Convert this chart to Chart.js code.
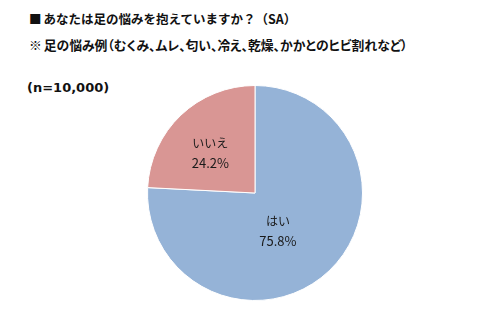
<!DOCTYPE html>
<html lang="ja">
<head>
<meta charset="utf-8">
<script src="https://cdn.jsdelivr.net/npm/chart.js@4"></script>
<style>
  html, body { margin: 0; padding: 0; background: #fff; }
  body { width: 500px; height: 316px; position: relative; overflow: hidden; font-family: "Noto Sans CJK JP", sans-serif; }
  .ttl { position: absolute; left: 29px; font-weight: bold; font-size: 12.5px; color: #111; white-space: nowrap; line-height: 16px; }
  .ttl span { margin-right: 2px; }
  #t1 { top: 11px; }
  #t2 { top: 37px; font-size: 12.8px; font-feature-settings: "palt"; }
  #n { position: absolute; left: 27px; top: 80px; font-family: "DejaVu Sans", sans-serif; font-weight: bold; font-size: 13px; color: #111; }
  #wrap { position: absolute; left: 147px; top: 85px; width: 216px; height: 216px; }
</style>
</head>
<body>
<div class="ttl" id="t1"><span>■</span>あなたは足の悩みを抱えていますか？（SA）</div>
<div class="ttl" id="t2"><span>※</span>足の悩み例（むくみ、ムレ、匂い、冷え、乾燥、かかとのヒビ割れなど）</div>
<div id="n">(n=10,000)</div>
<div id="wrap"><canvas id="chart-pie"></canvas></div>
<script>
// data
const labels = ['はい', 'いいえ'];
const values = [75.8, 24.2];
const colors = ['#95b3d7', '#d99694'];

// label spot inside each slice: [share of slice angle, share of radius]
const labelSpot = [[0.545, 0.41], [0.45, 0.56]];

const sliceLabels = {
    id: 'sliceLabels',
    afterDatasetsDraw(chart) {
        const ctx = chart.ctx;
        const arcs = chart.getDatasetMeta(0).data;
        ctx.save();
        ctx.fillStyle = '#1a1a1a';
        ctx.textAlign = 'center';
        ctx.textBaseline = 'middle';
        arcs.forEach((arc, i) => {
            const p = arc.getProps(['x', 'y', 'startAngle', 'endAngle', 'outerRadius'], true);
            const a = p.startAngle + (p.endAngle - p.startAngle) * labelSpot[i][0];
            const r = p.outerRadius * labelSpot[i][1];
            const x = p.x + Math.cos(a) * r;
            const y = p.y + Math.sin(a) * r;
            ctx.font = '12px "Noto Sans CJK JP", sans-serif';
            ctx.fillText(labels[i], x, y - 9);
            ctx.font = '13px "Noto Sans CJK JP", sans-serif';
            ctx.fillText(values[i].toFixed(1) + '%', x, y + 10);
        });
        ctx.restore();
    }
};

new Chart(document.getElementById('chart-pie').getContext('2d'), {
    type: 'pie',
    data: {
        labels: labels,
        datasets: [{
            data: values,
            backgroundColor: colors,
            borderColor: '#ffffff',
            borderWidth: 1
        }]
    },
    options: {
        responsive: true,
        maintainAspectRatio: false,
        animation: false,
        layout: { padding: 0 },
        plugins: {
            legend: { display: false },
            tooltip: { enabled: false }
        }
    },
    plugins: [sliceLabels]
});
</script>
</body>
</html>
